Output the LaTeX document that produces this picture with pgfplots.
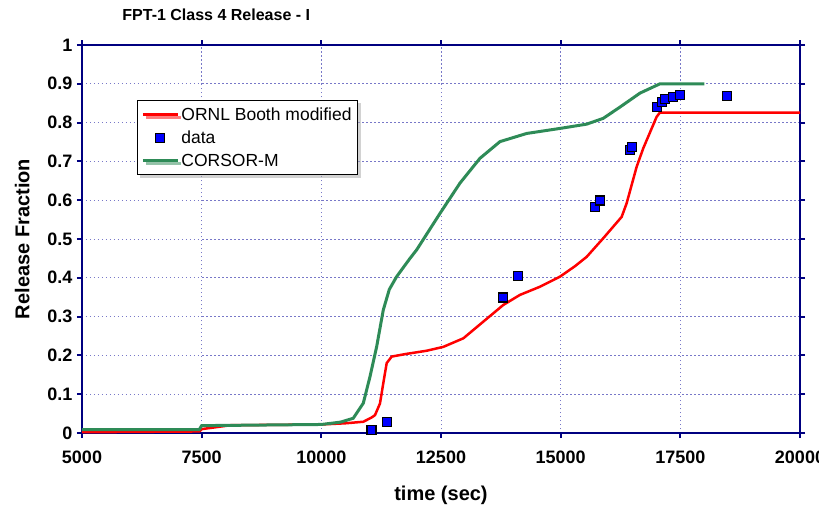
\documentclass[border=0pt]{standalone}
\usepackage{fontspec}
\setmainfont{Liberation Sans}
\usepackage{pgfplots}
\pgfplotsset{compat=1.18}
\usetikzlibrary{shadows}
\definecolor{navyax}{RGB}{0,0,128}
\definecolor{gridc}{RGB}{120,120,200}
\definecolor{corsor}{RGB}{46,139,87}
\pgfplotsset{longline/.style={legend image code/.code={\draw[##1] (0pt,0pt) -- (35pt,0pt);}},
  markleg/.style={legend image code/.code={\draw[##1] plot coordinates {(17.5pt,0pt)};}}}
\begin{document}
\begin{tikzpicture}
\begin{axis}[
  at={(0pt,0pt)}, anchor=south west,
  scale only axis, width=718pt, height=388pt,
  xmin=5000, xmax=20000, ymin=0, ymax=1,
  xtick={5000,7500,10000,12500,15000,17500,20000},
  ytick={0,0.1,0.2,0.3,0.4,0.5,0.6,0.7,0.8,0.9,1},
  scaled ticks=false,
  /pgf/number format/1000 sep={},
  /pgf/number format/assume math mode=true,
  ticklabel style={font=\bfseries\fontsize{18}{21}\selectfont},
  xticklabel style={yshift=-9pt},
  yticklabel style={xshift=-1pt},
  grid=major,
  major grid style={draw=gridc, line width=1pt, dash pattern=on 1.5pt off 2.5pt},
  axis line style={draw=navyax, line width=2.2pt},
  tick style={draw=navyax, line width=2pt},
  tick align=outside, major tick length=5pt,
  xlabel={\bfseries\fontsize{20}{24}\selectfont time (sec)},
  ylabel={\bfseries\fontsize{20}{24}\selectfont Release Fraction},
  xlabel style={yshift=-16pt},
  ylabel style={yshift=11pt},
  legend style={at={(rel axis cs:0.0766,0.858)}, anchor=north west,
    draw=black, line width=0.8pt, fill=white, drop shadow={shadow xshift=3pt, shadow yshift=-3pt, fill=gray!70},
    font=\fontsize{17.5}{21}\selectfont, row sep=5pt, inner xsep=4pt, inner ysep=5pt},
  legend cell align=left,
  clip=false,
]
\addplot[red, line width=2.5pt, longline] coordinates {
(5000,0.002) (7450,0.004) (7500,0.01) (8100,0.02) (10000,0.022) (10500,0.025)
(10877,0.029) (11050,0.04) (11121,0.046) (11225,0.076) (11294,0.128) (11365,0.18)
(11469,0.197) (11782,0.204) (12200,0.212) (12548,0.222) (12966,0.244) (13384,0.287)
(13801,0.33) (14150,0.356) (14568,0.377) (14986,0.403) (15300,0.43) (15543,0.454)
(15890,0.502) (16274,0.557) (16378,0.592) (16587,0.686) (16726,0.734) (17005,0.815)
(17075,0.826) (20000,0.826)
};
\addlegendentry{ORNL Booth modified}
\addplot[only marks, mark=square*, mark size=4.5pt, mark options={fill=blue, draw=black, line width=1.2pt}, markleg] coordinates {
(11050,0.008) (11365,0.029) (13801,0.349) (14115,0.405) (15716,0.583) (15821,0.599)
(16448,0.729) (16483,0.738) (17005,0.841) (17110,0.854) (17179,0.860) (17352,0.867)
(17492,0.871) (18467,0.869)
};
\addlegendentry{data}
\addplot[corsor, line width=3pt, longline] coordinates {
(5000,0.009) (7450,0.009) (7500,0.019) (10000,0.022) (10400,0.028) (10667,0.038)
(10877,0.077) (11016,0.145) (11155,0.222) (11294,0.317) (11420,0.37) (11573,0.403)
(11852,0.450) (11991,0.472) (12479,0.566) (12896,0.644) (13314,0.708) (13732,0.751)
(14290,0.772) (14986,0.785) (15543,0.796) (15890,0.811) (16239,0.840) (16657,0.876)
(17075,0.900) (18000,0.900)
};
\addlegendentry{CORSOR-M}
\node[font=\bfseries\fontsize{16}{19}\selectfont, anchor=center] at (rel axis cs:0.187,1.077) {FPT-1 Class 4 Release - I};
\end{axis}
\pgfresetboundingbox
\path (-82pt,-74pt) rectangle (737pt,433pt);
\end{tikzpicture}
\end{document}
